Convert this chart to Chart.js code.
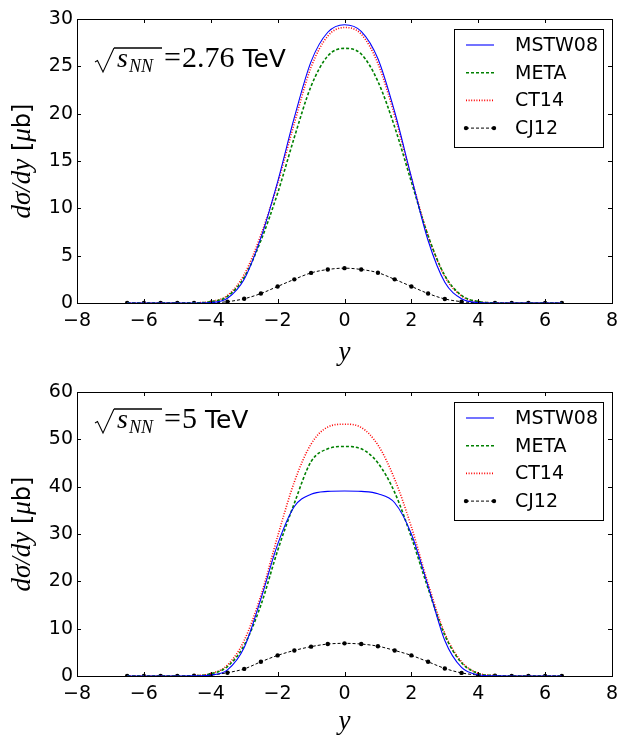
<!DOCTYPE html>
<html>
<head>
<meta charset="utf-8">
<script src="https://cdn.jsdelivr.net/npm/chart.js@4.4.1/dist/chart.umd.min.js"></script>
<style>
  html, body { margin: 0; padding: 0; background: #fff; }
  canvas { display: block; }
</style>
</head>
<body>
<canvas id="chart-276" width="618" height="369"></canvas>
<canvas id="chart-5" width="618" height="369"></canvas>
<script>
// rapidity grid (CJ12 markers sit every 0.5)
const rapidity = [-6.5, -6, -5.5, -5, -4.5, -4, -3.5, -3, -2.5, -2, -1.5, -1, -0.5, 0,
                  0.5, 1, 1.5, 2, 2.5, 3, 3.5, 4, 4.5, 5, 5.5, 6, 6.5];

// sqrt(s_NN) = 2.76 TeV
const mstw08_276 = [0, 0, 0, 0, 0, 0.05, 0.5, 2.5, 6.9, 12.8, 19.6, 25.5, 28.6, 29.4,
                    28.7, 25.8, 20.2, 13.3, 6.6, 2.2, 0.45, 0.05, 0, 0, 0, 0, 0];
const meta_276 = [0, 0, 0, 0, 0.02, 0.13, 0.7, 2.7, 6.6, 11.6, 17.5, 22.9, 26.1, 26.9,
                  26.3, 23.4, 18.6, 12.8, 7.1, 2.9, 0.8, 0.15, 0.02, 0, 0, 0, 0];
const ct14_276 = [0, 0, 0, 0, 0.02, 0.15, 0.8, 3.0, 7.2, 12.6, 19.0, 24.9, 28.2, 29.1,
                  28.4, 25.3, 19.8, 13.2, 7.1, 2.8, 0.75, 0.14, 0.02, 0, 0, 0, 0];
const cj12_276 = [0, 0, 0, 0, 0, 0.02, 0.14, 0.45, 1.0, 1.75, 2.5, 3.18, 3.54, 3.68,
                  3.54, 3.2, 2.5, 1.75, 1.0, 0.43, 0.14, 0.02, 0, 0, 0, 0, 0];

// sqrt(s_NN) = 5 TeV
const mstw08_5 = [0, 0, 0, 0, 0.02, 0.2, 1.3, 6.0, 16.3, 27.8, 35.8, 38.4, 39.0, 39.1,
                  39.0, 38.5, 36.6, 30.0, 19.0, 7.5, 1.8, 0.25, 0.02, 0, 0, 0, 0];
const meta_5 = [0, 0, 0, 0, 0.05, 0.45, 2.0, 6.5, 15.0, 26.5, 36.5, 45.3, 48.0, 48.5,
                48.0, 45.0, 38.8, 29.3, 18.5, 8.6, 2.8, 0.55, 0.08, 0, 0, 0, 0];
const ct14_5 = [0, 0, 0, 0, 0.08, 0.5, 2.3, 7.5, 17.0, 29.5, 41.0, 49.0, 52.6, 53.2,
                52.5, 48.8, 41.6, 31.5, 19.5, 9.0, 3.0, 0.6, 0.1, 0, 0, 0, 0];
const cj12_5 = [0, 0, 0, 0, 0.05, 0.2, 0.7, 1.5, 3.0, 4.35, 5.4, 6.2, 6.75, 6.9,
                6.75, 6.3, 5.4, 4.35, 3.0, 1.6, 0.65, 0.2, 0.05, 0, 0, 0, 0];

const seriesNames = ['MSTW08', 'META', 'CT14', 'CJ12'];
const xTicks = [-8, -6, -4, -2, 0, 2, 4, 6, 8];
const yTicks276 = [0, 5, 10, 15, 20, 25, 30];
const yTicks5 = [0, 10, 20, 30, 40, 50, 60];

const SANS = "'DejaVu Sans', sans-serif";
const SERIF = "'Liberation Serif', 'DejaVu Serif', serif";

function toPoints(values) {
    return rapidity.map((x, i) => ({ x: x, y: values[i] }));
}

function makeDatasets(mstw, meta, ct14, cj12) {
    return [
        { label: seriesNames[0], data: toPoints(mstw), borderColor: '#0000ff', borderWidth: 1.1,
          pointRadius: 0 },
        { label: seriesNames[1], data: toPoints(meta), borderColor: '#008000', borderWidth: 1.6,
          borderDash: [3, 2], pointRadius: 0 },
        { label: seriesNames[2], data: toPoints(ct14), borderColor: '#ff0000', borderWidth: 1.6,
          borderDash: [1, 1.6], pointRadius: 0 },
        { label: seriesNames[3], data: toPoints(cj12), borderColor: '#000000', borderWidth: 1,
          borderDash: [3, 2], pointRadius: 2.2, pointBackgroundColor: '#000', pointBorderWidth: 0 }
    ];
}

// sqrt(s_NN) = ... TeV written like mathtext
function drawEnergy(ctx, x, y, energy) {
    ctx.save();
    ctx.fillStyle = '#000';
    ctx.strokeStyle = '#000';
    ctx.textBaseline = 'alphabetic';
    ctx.lineJoin = 'miter';
    ctx.lineWidth = 1.1;
    ctx.beginPath();
    ctx.moveTo(x, y - 5);
    ctx.lineTo(x + 2.5, y - 6.5);
    ctx.lineTo(x + 8, y + 5);
    ctx.lineTo(x + 19, y - 19);
    ctx.stroke();
    ctx.lineWidth = 1.7;
    ctx.beginPath();
    ctx.moveTo(x + 19, y - 19);
    ctx.lineTo(x + 67, y - 19);
    ctx.stroke();

    ctx.font = 'italic 28px ' + SERIF;
    ctx.fillText('s', x + 22, y);
    ctx.font = 'italic 18px ' + SERIF;
    ctx.fillText('NN', x + 34, y + 5);
    let cx = x + 69;
    ctx.font = '30px ' + SERIF;
    ctx.fillText('=', cx, y);
    cx += ctx.measureText('=').width + 1;
    ctx.fillText(energy, cx, y);
    cx += ctx.measureText(energy).width + 8;
    ctx.font = '25px ' + SANS;
    ctx.fillText('TeV', cx, y);
    ctx.restore();
}

// rotated "dσ/dy [μb]"
function drawYTitle(ctx, cx, cy) {
    const parts = [
        { t: 'dσ/dy', f: 'italic 27px ' + SERIF },
        { t: ' [', f: '24px ' + SANS },
        { t: 'μ', f: 'italic 27px ' + SERIF },
        { t: 'b]', f: '24px ' + SANS }
    ];
    ctx.save();
    ctx.translate(cx, cy);
    ctx.rotate(-Math.PI / 2);
    ctx.fillStyle = '#000';
    ctx.textBaseline = 'alphabetic';
    let total = 0;
    parts.forEach(p => { ctx.font = p.f; p.w = ctx.measureText(p.t).width; total += p.w; });
    let px = -total / 2;
    parts.forEach(p => { ctx.font = p.f; ctx.fillText(p.t, px, 8); px += p.w; });
    ctx.restore();
}

// legend box in the upper right corner
function drawLegend(chart) {
    const ctx = chart.ctx;
    const area = chart.chartArea;
    const left = Math.round(area.right) - 158;
    const top = Math.round(area.top) + 10;
    const w = 149, h = 118;
    ctx.save();
    ctx.fillStyle = '#fff';
    ctx.fillRect(left, top, w, h);
    ctx.strokeStyle = '#000';
    ctx.lineWidth = 1;
    ctx.strokeRect(left + 0.5, top + 0.5, w, h);
    chart.data.datasets.forEach((ds, i) => {
        const yy = top + 16 + i * 27.7;
        ctx.strokeStyle = ds.borderColor;
        ctx.lineWidth = ds.borderWidth;
        ctx.setLineDash(ds.borderDash || []);
        ctx.beginPath();
        ctx.moveTo(left + 12, yy);
        ctx.lineTo(left + 40, yy);
        ctx.stroke();
        ctx.setLineDash([]);
        if (ds.pointRadius > 0) {
            ctx.fillStyle = '#000';
            [left + 12, left + 40].forEach(px => {
                ctx.beginPath();
                ctx.arc(px, yy, ds.pointRadius, 0, Math.PI * 2);
                ctx.fill();
            });
        }
        ctx.fillStyle = '#000';
        ctx.font = '19px ' + SANS;
        ctx.textBaseline = 'middle';
        ctx.fillText(ds.label, left + 61, yy + 1);
    });
    ctx.restore();
}

// frame and inward ticks on all four sides (classic matplotlib look)
function drawFrame(chart) {
    const ctx = chart.ctx;
    const a = chart.chartArea;
    const xs = chart.scales.x, ys = chart.scales.y;
    ctx.save();
    ctx.strokeStyle = '#000';
    ctx.lineWidth = 1;
    ctx.strokeRect(Math.round(a.left) + 0.5, Math.round(a.top) + 0.5,
                   Math.round(a.right - a.left), Math.round(a.bottom - a.top));
    ctx.beginPath();
    xs.ticks.forEach(t => {
        const px = Math.round(xs.getPixelForValue(t.value)) + 0.5;
        ctx.moveTo(px, a.bottom); ctx.lineTo(px, a.bottom - 4);
        ctx.moveTo(px, a.top); ctx.lineTo(px, a.top + 4);
    });
    ys.ticks.forEach(t => {
        const py = Math.round(ys.getPixelForValue(t.value)) + 0.5;
        ctx.moveTo(a.left, py); ctx.lineTo(a.left + 4, py);
        ctx.moveTo(a.right, py); ctx.lineTo(a.right - 4, py);
    });
    ctx.stroke();
    ctx.restore();
}

function makeChart(canvasId, datasets, yTicks, yMax, opts) {
    const ctx = document.getElementById(canvasId).getContext('2d');
    const decor = {
        id: 'decor' + canvasId,
        afterDraw(chart) {
            drawFrame(chart);
            drawLegend(chart);
            drawEnergy(chart.ctx, 95, opts.energyY, opts.energy);
            const a = chart.chartArea;
            drawYTitle(chart.ctx, 22, (a.top + a.bottom) / 2);
        }
    };
    return new Chart(ctx, {
        type: 'line',
        data: { datasets: datasets },
        options: {
            responsive: false,
            animation: false,
            cubicInterpolationMode: 'monotone',
            layout: { padding: { left: 0, right: 6, top: opts.top, bottom: 0 } },
            plugins: {
                legend: { display: false },
                tooltip: { enabled: false }
            },
            scales: {
                x: {
                    type: 'linear',
                    min: -8,
                    max: 8,
                    afterBuildTicks: axis => { axis.ticks = xTicks.map(v => ({ value: v })); },
                    afterFit: axis => {
                        axis.height = opts.xHeight;
                        axis.paddingLeft = 0;
                        axis.paddingRight = 0;
                    },
                    grid: { display: false, drawTicks: false },
                    border: { display: false },
                    ticks: {
                        padding: 7,
                        color: '#000',
                        font: { family: SANS, size: 19 },
                        callback: v => String(v).replace('-', '\u2212')
                    },
                    title: {
                        display: true,
                        text: 'y',
                        color: '#000',
                        font: { family: SERIF, size: 27, style: 'italic' },
                        padding: { top: 8, bottom: 0 }
                    }
                },
                y: {
                    type: 'linear',
                    min: 0,
                    max: yMax,
                    afterBuildTicks: axis => { axis.ticks = yTicks.map(v => ({ value: v })); },
                    afterFit: axis => {
                        axis.width = 77;
                        axis.paddingTop = 0;
                        axis.paddingBottom = 0;
                    },
                    grid: { display: false, drawTicks: false },
                    border: { display: false },
                    ticks: {
                        padding: 4,
                        color: '#000',
                        font: { family: SANS, size: 19 }
                    }
                }
            }
        },
        plugins: [decor]
    });
}

document.addEventListener('DOMContentLoaded', function() {
    makeChart('chart-276', makeDatasets(mstw08_276, meta_276, ct14_276, cj12_276), yTicks276, 30,
              { top: 19, xHeight: 66, energy: '2.76', energyY: 67 });
    makeChart('chart-5', makeDatasets(mstw08_5, meta_5, ct14_5, cj12_5), yTicks5, 60,
              { top: 23, xHeight: 62, energy: '5', energyY: 59 });
});
</script>
</body>
</html>
